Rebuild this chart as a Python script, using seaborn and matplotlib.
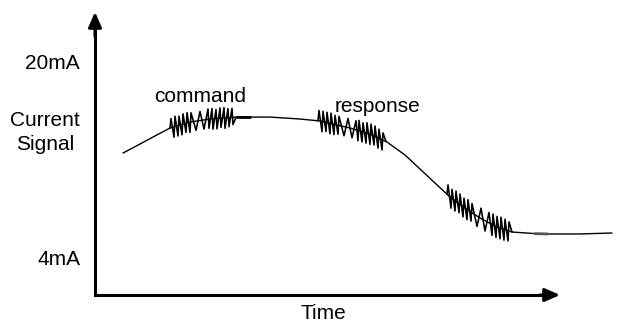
import matplotlib
matplotlib.use('Agg')
import matplotlib.pyplot as plt
import numpy as np
import seaborn as sns

# main signal curve (time in arbitrary units, current in mA)
curve_t = [28, 45, 60, 75, 95, 115, 142, 175, 205, 225, 255, 275, 292, 310,
           325, 340, 355, 370, 385, 400, 417, 445, 485, 517]
curve_ma = [12.53, 13.27, 13.93, 14.58, 15.07, 15.32, 15.48, 15.48, 15.32, 15.16,
            14.58, 14.09, 13.43, 12.37, 11.22, 10.07, 8.92, 8.02, 7.20, 6.54,
            6.05, 5.89, 5.89, 5.97]

# noise bursts riding on the curve: positions and offsets (mA)
cmd_t = [75, 76, 79, 80, 83, 84, 87, 88, 91, 92, 95, 96, 101, 105, 109,
         113, 114, 117, 118, 121, 122, 125, 126, 129, 130, 133, 134, 137, 138, 141]
cmd_dy = [0.0, 0.75, -0.85, 0.85, -0.85, 0.75, -0.85, 0.85, -0.75, 0.85,
          -0.85, 0.75, -0.75, 0.75, -0.75, 0.85, -0.75, 0.85, -0.85, 0.75,
          -0.85, 0.85, -0.75, 0.85, -0.85, 0.75, -0.75, 0.75, -0.6, 0.0]

rsp_t = [223, 224, 227, 228, 231, 232, 235, 236, 239, 240, 243, 244,
         249, 253, 257, 261,
         263, 264, 267, 268, 271, 272, 275, 276, 279, 280, 283, 284, 287, 288, 291]
rsp_dy = [0.0, 0.85, -0.85, 0.85, -0.75, 0.85, -0.85, 0.85, -0.85, 0.75, -0.75, 0.75,
          -0.75, 0.75, -0.75, 0.75,
          -0.85, 0.85, -0.85, 0.75, -0.85, 0.85, -0.85, 0.85, -0.75, 0.85, -0.85, 0.75,
          -0.85, 0.6, 0.0]

end_t = [352, 353, 356, 357, 360, 361, 364, 365, 368, 369, 372, 373, 376, 377,
         382, 386, 390, 394,
         397, 398, 401, 402, 405, 406, 409, 410, 413, 414, 417]
end_dy = [0.0, 0.85, -0.85, 0.75, -0.85, 0.85, -0.75, 0.85, -0.85, 0.75, -0.85, 0.85,
          -0.75, 0.75,
          -0.85, 0.85, -0.85, 0.85,
          -0.9, 0.9, -0.9, 0.85, -0.9, 0.9, -0.9, 0.85, -0.85, 0.75, 0.0]

ytick_vals = [4, 20]
ytick_labels = ['4mA', '20mA']

sns.set_style('white')
plt.rcParams['font.family'] = ['Liberation Sans', 'DejaVu Sans']
plt.rcParams['text.color'] = 'black'
plt.rcParams['ytick.color'] = 'black'

fig = plt.figure(figsize=(6.18, 3.22), dpi=100)
ax = fig.add_axes([95 / 618, 27 / 322, 523 / 618, 283 / 322])
ymin, ymax = 0.883, 24.10
t_end = 465

sns.lineplot(x=curve_t, y=curve_ma, color='black', lw=1.0, sort=False,
             estimator=None, ax=ax)

for ts, dys in [(cmd_t, cmd_dy), (rsp_t, rsp_dy), (end_t, end_dy)]:
    base = np.interp(ts, curve_t, curve_ma)
    sns.lineplot(x=ts, y=base + np.array(dys), color='black', lw=1.15,
                 sort=False, estimator=None, ax=ax)

# slightly heavier stretches of the trace
for t0, t1, c in [(142, 155, 'black'), (440, 453, '#555555')]:
    seg = [t0, t1]
    sns.lineplot(x=seg, y=np.interp(seg, curve_t, curve_ma), color=c, lw=2.0,
                 estimator=None, ax=ax)

# axes drawn as arrows
ax.plot([0, 0, t_end - 10], [ymax - 1, ymin, ymin], color='black', lw=2.2,
        solid_joinstyle='miter', clip_on=False)
arr = dict(arrowstyle='-|>,head_length=0.5,head_width=0.22', lw=2.2,
           color='black', mutation_scale=18, shrinkA=0, shrinkB=0)
ax.annotate('', xy=(t_end, ymin), xytext=(t_end - 20, ymin), arrowprops=arr,
            annotation_clip=False)
ax.annotate('', xy=(0, ymax), xytext=(0, ymax - 2), arrowprops=arr,
            annotation_clip=False)

for ln in ax.lines:
    ln.set_clip_on(False)

ax.set_xlim(0, 523)
ax.set_ylim(ymin, ymax)
ax.set_xticks([])
ax.set_yticks(ytick_vals, ytick_labels)
ax.tick_params(axis='y', length=0, pad=10.8, labelsize=15, labelcolor='black')
sns.despine(ax=ax, left=True, bottom=True)

ax.text(105, 16.72, 'command', ha='center', va='baseline', fontsize=15)
ax.text(283, 15.92, 'response', ha='center', va='baseline', fontsize=15)
ax.text(-50, 14.75, 'Current', ha='center', va='baseline', fontsize=15)
ax.text(-50, 12.78, 'Signal', ha='center', va='baseline', fontsize=15)
ax.text(228, -1.05, 'Time', ha='center', va='baseline', fontsize=15)

plt.savefig('out.png', dpi=100)
plt.close()
